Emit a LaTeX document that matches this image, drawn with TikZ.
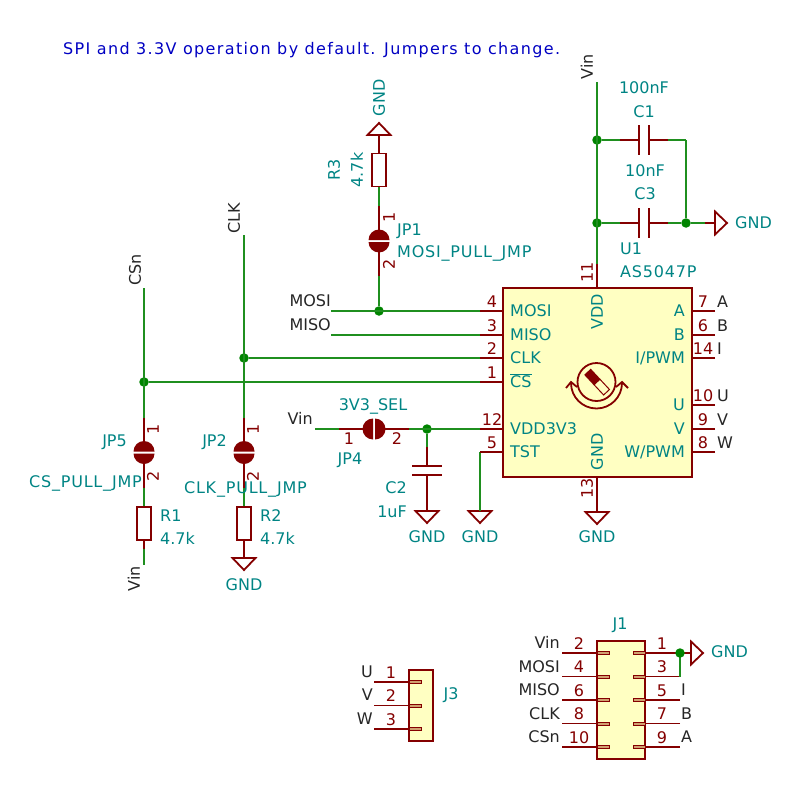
\documentclass[tikz,border=0pt]{standalone}
\usepackage{fontspec}
\setmainfont{DejaVu Sans}
\newfontfamily\widefont[LetterSpace=5]{DejaVu Sans}
\newfontfamily\notefont[LetterSpace=8.5]{DejaVu Sans}
\definecolor{wirecol}{HTML}{1F8F1F}
\definecolor{dotcol}{HTML}{008400}
\definecolor{pincol}{HTML}{840000}
\definecolor{refcol}{HTML}{008484}
\definecolor{bodycol}{HTML}{FFFFC2}
\definecolor{stubcol}{HTML}{D0A070}
\definecolor{notecol}{HTML}{0000C2}
\tikzset{
    wire/.style={wirecol, line width=1.5pt},
    pinline/.style={pincol, line width=1.8pt},
    outline/.style={pincol, line width=2.5pt},
    txt/.style={inner sep=0pt, text height=11.6pt, text depth=0pt, font=\fontsize{16}{16}\selectfont},
    refname/.style={txt, text=refcol},
    netname/.style={txt, text=black!85},
    pinnum/.style={txt, text=pincol},
    junction/.style={circle, fill=dotcol, inner sep=0pt, minimum size=9.5pt},
    resbox/.style={draw=pincol, line width=1.8pt, inner sep=0pt, minimum width=14pt, minimum height=33pt},
    icbody/.style={draw=pincol, fill=bodycol, line width=2.5pt, inner sep=0pt},
    stub/.style={draw=pincol, fill=stubcol, line width=1pt, inner sep=0pt, minimum width=12pt, minimum height=3pt},
    jumper/.pic={
        \fill[pincol] (-10.5,-1) arc[start angle=180, end angle=0, radius=10.5pt] -- cycle;
        \fill[pincol] (-10.5,1) arc[start angle=180, end angle=360, radius=10.5pt] -- cycle;
        \coordinate (-top) at (0,-11);
        \coordinate (-bot) at (0,11);
        \coordinate (-pintop) at (0,-35);
        \coordinate (-pinbot) at (0,35);
    },
    gnd/.pic={
        \draw[pincol, line width=1.8pt, line join=miter] (-11.5,0) -- (11.5,0) -- (0,12) -- cycle;
        \coordinate (-in) at (0,0);
    },
}
\begin{document}
\begin{tikzpicture}[x=1pt, y=-1pt]
    \useasboundingbox (0,0) rectangle (800,800);

    % Parameters
    \def\numup{9.5}

    % Note
    \node[txt, text=notecol, anchor=west] (note) at (63,49) {\notefont SPI and 3.3V operation by default. Jumpers to change.};

    % U1 body
    \node[icbody, minimum width=189pt, minimum height=189pt] (U1) at (597.5,382.5) {};

    % U1 pins left
    \foreach \y/\num/\name in {311/4/MOSI, 335/3/MISO, 358/2/CLK, 382/1/$\overline{\mbox{CS}}$, 429/12/VDD3V3, 452/5/TST} {
        \coordinate (ul\num) at (480,\y);
        \draw[pinline] (ul\num) -- (ul\num -| U1.west);
        \node[pinnum] (ulnum\num) at (492,\y-\numup) {\num};
        \node[refname, anchor=west] (ulname\num) at (510,\y) {\name};
    }

    % U1 pins right
    \foreach \y/\num/\name/\net in {311/7/A/A, 335/6/B/B, 358/14/I\slash PWM/I, 405/10/U/U, 429/9/V/V, 452/8/W\slash PWM/W} {
        \coordinate (ur\num) at (715,\y);
        \draw[pinline] (ur\num) -- (ur\num -| U1.east);
        \node[pinnum] (urnum\num) at (703,\y-\numup) {\num};
        \node[refname, anchor=east] (urname\num) at (685,\y) {\name};
        \node[netname, anchor=west] (urnet\num) at (717,\y-\numup) {\net};
    }

    % U1 power pins
    \coordinate (vddpin) at (597,264);
    \coordinate (gndpin) at (597,500);
    \draw[pinline] (vddpin) -- (vddpin |- U1.north);
    \draw[pinline] (gndpin) -- (gndpin |- U1.south);
    \node[pinnum, rotate=90] (num11) at (587,272) {11};
    \node[pinnum, rotate=90] (num13) at (587,488) {13};
    \node[refname, rotate=90] (vddname) at (597,312) {VDD};
    \node[refname, rotate=90] (gndname) at (597,452) {GND};
    \node[refname, anchor=west] (U1ref) at (620,249) {U1};
    \node[refname, anchor=west] (U1val) at (620,272) {\widefont AS5047P};

    % Magnet symbol
    \node[circle, draw=pincol, line width=1.8pt, inner sep=0pt, minimum size=38pt] (ring) at (596.5,382) {};
    \draw[pincol, line width=1.8pt] (571,383) arc[start angle=180, end angle=360, radius=25.5pt];
    \draw[pincol, line width=1.8pt] (566,388) -- (571,382) -- (577,387);
    \draw[pincol, line width=1.8pt] (616,387) -- (622,382) -- (628,388);
    \begin{scope}[shift={(597,382)}, rotate=-47]
        \draw[pincol, line width=1pt, fill=bodycol] (0,-4) rectangle (14,4);
        \fill[pincol] (-14,-4.5) rectangle (0,4.5);
    \end{scope}

    % Vin and decoupling
    \coordinate (vintop) at (597,82);
    \node[netname, rotate=90] (vinname) at (587,67) {Vin};
    \node[junction] (decA) at (597,140) {};
    \node[junction] (decB) at (597,223) {};
    \node[junction] (decC) at (686,223) {};
    \coordinate (decD) at (686,140);
    \draw[wire] (vintop) -- (vddpin);
    \draw[wire] (decD) -- (decC);
    \pic[rotate=90] (gndC) at (715,223) {gnd};
    \draw[wire] (decC) -- (705,223);
    \draw[pinline] (705,223) -- (gndC-in);
    \node[refname, anchor=west] (gndCname) at (735,223) {GND};
    \foreach \y/\ref/\val/\vx/\refy/\valy/\from/\to in {140/C1/100nF/644/112/88/decA/decD, 223/C3/10nF/645/194/171/decB/decC} {
        \coordinate (\ref a) at (639,\y);
        \coordinate (\ref b) at (649,\y);
        \coordinate (\ref wa) at (620,\y);
        \coordinate (\ref wb) at (668,\y);
        \draw[wire] (\from) -- (\ref wa);
        \draw[wire] (\ref wb) -- (\to);
        \draw[pinline] (\ref wa) -- (\ref a);
        \draw[pinline] (\ref b) -- (\ref wb);
        \draw[outline] (639,\y-15) -- (639,\y+15);
        \draw[outline] (649,\y-15) -- (649,\y+15);
        \node[refname] (\ref name) at (\vx,\refy) {\ref};
        \node[refname] (\ref val) at (\vx,\valy) {\val};
    }

    % MOSI pull jumper
    \node[resbox] (R3) at (379,170) {};
    \pic[rotate=180] (gndR) at (379,135) {gnd};
    \node[refname, rotate=90] (gndRname) at (379,98) {GND};
    \pic (JP1) at (379,241) {jumper};
    \node[junction] (mosidot) at (379,311) {};
    \coordinate (mosiend) at (331,311);
    \coordinate (misoend) at (331,335);
    \draw[wire] (mosiend) -- (ul4);
    \draw[wire] (misoend) -- (ul3);
    \draw[wire] (R3.south) -- (JP1-pintop);
    \draw[wire] (JP1-pinbot) -- (mosidot);
    \draw[pinline] (gndR-in) -- (R3.north);
    \draw[pinline] (JP1-pintop) -- (JP1-top);
    \draw[pinline] (JP1-bot) -- (JP1-pinbot);
    \node[refname, rotate=90] (R3name) at (334,170) {R3};
    \node[refname, rotate=90] (R3val) at (357,170) {4.7k};
    \node[pinnum, rotate=90] (JP1a) at (389,217) {1};
    \node[pinnum, rotate=90] (JP1b) at (389,264) {2};
    \node[refname, anchor=west] (JP1name) at (397,230) {JP1};
    \node[refname, anchor=west] (JP1val) at (397,252) {\widefont MOSI\_PULL\_JMP};
    \node[netname, anchor=east] (mosiname) at (331,301) {MOSI};
    \node[netname, anchor=east] (misoname) at (331,325) {MISO};

    % CLK and CS pull jumpers
    \foreach \jp/\res/\x/\ref/\jx in {JP5/R1/144/R1/127, JP2/R2/244/R2/227} {
        \pic (\jp) at (\x,452.5) {jumper};
        \node[resbox] (\res) at (\x,523.5) {};
        \draw[wire] (\jp-pinbot) -- (\res.north);
        \draw[pinline] (\jp-pintop) -- (\jp-top);
        \draw[pinline] (\jp-bot) -- (\jp-pinbot);
        \node[pinnum, rotate=90] (\jp a) at (\x+9,429) {1};
        \node[pinnum, rotate=90] (\jp b) at (\x+9,476) {2};
        \node[refname, anchor=east] (\jp name) at (\jx,441) {\jp};
        \node[refname, anchor=west] (\res name) at (\x+16,516) {\ref};
        \node[refname, anchor=west] (\res val) at (\x+16,539) {4.7k};
    }
    \coordinate (csend) at (144,288);
    \coordinate (clkend) at (244,235);
    \node[junction] (clkdot) at (244,358) {};
    \node[junction] (csdot) at (144,382) {};
    \draw[wire] (clkend) -- (JP2-pintop);
    \draw[wire] (csend) -- (JP5-pintop);
    \draw[wire] (clkdot) -- (ul2);
    \draw[wire] (csdot) -- (ul1);
    \node[netname, rotate=90] (clkname) at (234,218) {CLK};
    \node[netname, rotate=90] (csname) at (135,270) {CSn};
    \node[refname, anchor=east] (JP5val) at (142,482) {\widefont CS\_PULL\_JMP};
    \node[refname, anchor=east] (JP2val) at (307,488) {\widefont CLK\_PULL\_JMP};

    % Resistor ends
    \coordinate (vinlow) at (144,565);
    \draw[pinline] (R1.south) -- (144,549);
    \draw[wire] (144,549) -- (vinlow);
    \node[netname, rotate=90] (vinlowname) at (134,579) {Vin};
    \pic (gndRtwo) at (244,558) {gnd};
    \draw[pinline] (R2.south) -- (gndRtwo-in);
    \node[refname] (gndRtwoname) at (244,585) {GND};

    % Voltage select
    \pic[rotate=90] (JP4) at (374,429) {jumper};
    \coordinate (vinsel) at (315,429);
    \node[junction] (seldot) at (427,429) {};
    \draw[wire] (vinsel) -- (JP4-pintop);
    \draw[wire] (JP4-pinbot) -- (ul12);
    \draw[pinline] (JP4-pintop) -- (JP4-top);
    \draw[pinline] (JP4-bot) -- (JP4-pinbot);
    \draw[pinline] (ul12) -- (ul12 -| U1.west);
    \node[netname, anchor=east] (vinselname) at (313,419) {Vin};
    \node[pinnum] (JP4a) at (349,439) {1};
    \node[pinnum] (JP4b) at (397,439) {2};
    \node[refname] (JP4name) at (350,459) {JP4};
    \node[refname] (JP4val) at (373,405) {3V3\_SEL};

    % C2 and test pin
    \coordinate (C2a) at (427,466);
    \coordinate (C2b) at (427,475);
    \pic (gndCtwo) at (427,511) {gnd};
    \pic (gndT) at (480,511) {gnd};
    \pic (gndU) at (597,512) {gnd};
    \draw[wire] (seldot) -- (427,447);
    \draw[pinline] (427,447) -- (C2a);
    \draw[outline] (412,466) -- (442,466);
    \draw[outline] (412,475) -- (442,475);
    \draw[pinline] (C2b) -- (gndCtwo-in);
    \draw[wire] (ul5) -- (gndT-in);
    \draw[pinline] (gndpin) -- (gndU-in);
    \draw[pinline] (ul5) -- (ul5 -| U1.west);
    \node[refname, anchor=east] (C2name) at (407,488) {C2};
    \node[refname, anchor=east] (C2val) at (407,512) {1uF};
    \node[refname] (gndCtwoname) at (427,537) {GND};
    \node[refname] (gndTname) at (480,537) {GND};
    \node[refname] (gndUname) at (597,537) {GND};

    % J3
    \node[icbody, minimum width=24pt, minimum height=71pt] (J3) at (421,705.5) {};
    \foreach \y/\num/\net in {682/1/U, 705.5/2/V, 729/3/W} {
        \coordinate (jthree\num) at (374,\y);
        \draw[pinline] (jthree\num) -- (J3.west |- jthree\num);
        \node[stub] (jthreestub\num) at (415,\y) {};
        \node[pinnum] (jthreenum\num) at (391,\y-9.5) {\num};
        \node[netname, anchor=east] (jthreenet\num) at (373,\y-10.5) {\net};
    }
    \node[refname] (J3name) at (451,694) {J3};

    % J1
    \node[icbody, minimum width=48pt, minimum height=118pt] (J1) at (621,700) {};
    \foreach \y/\num/\net in {653/2/Vin, 676.5/4/MOSI, 700/6/MISO, 723.5/8/CLK, 747/10/CSn} {
        \coordinate (jleft\num) at (562,\y);
        \draw[pinline] (jleft\num) -- (J1.west |- jleft\num);
        \node[stub] (jleftstub\num) at (603,\y) {};
        \node[pinnum] (jleftnum\num) at (579,\y-9.5) {\num};
        \node[netname, anchor=east] (jleftnet\num) at (560,\y-10) {\net};
    }
    \foreach \y/\num/\net in {653/1/{}, 676.5/3/{}, 700/5/I, 723.5/7/B, 747/9/A} {
        \coordinate (jright\num) at (680,\y);
        \draw[pinline] (jright\num) -- (J1.east |- jright\num);
        \node[stub] (jrightstub\num) at (639,\y) {};
        \node[pinnum] (jrightnum\num) at (662,\y-9.5) {\num};
        \node[netname, anchor=west] (jrightnet\num) at (681,\y-10) {\net};
    }
    \node[refname] (J1name) at (620,624) {J1};
    \pic[rotate=90] (gndJ) at (691,653) {gnd};
    \draw[wire] (jright1) -- (jright3);
    \draw[pinline] (jright1) -- (gndJ-in);
    \node[junction] (jdot) at (jright1) {};
    \node[refname, anchor=west] (gndJname) at (711,652) {GND};
\end{tikzpicture}
\end{document}
